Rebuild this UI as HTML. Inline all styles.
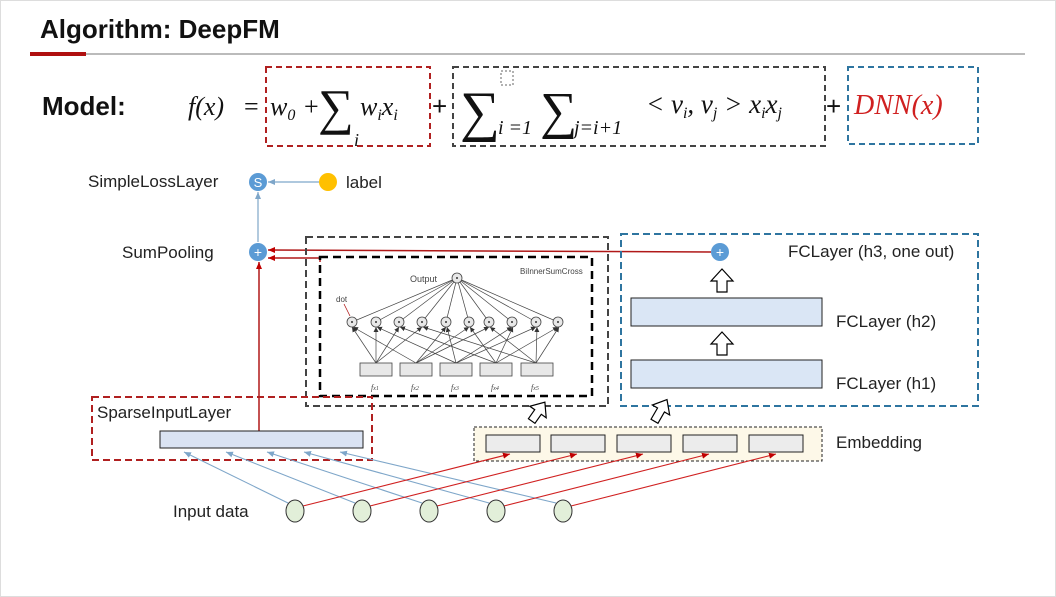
<!DOCTYPE html>
<html><head><meta charset="utf-8"><style>
html,body{margin:0;padding:0;background:#fff;}
svg{display:block;font-family:"Liberation Sans",sans-serif;}
.t{font-family:"Liberation Sans",sans-serif;}
.m{font-family:"Liberation Serif",serif;font-style:italic;}
</style></head><body>
<svg width="1056" height="597" viewBox="0 0 1056 597" xmlns="http://www.w3.org/2000/svg">
<defs>
<marker id="ab" markerWidth="8" markerHeight="8" refX="7" refY="4" orient="auto" markerUnits="userSpaceOnUse"><path d="M0,1 L7,4 L0,7 z" fill="#7ea6c9"/></marker>
<marker id="ar" markerWidth="8" markerHeight="8" refX="7" refY="4" orient="auto" markerUnits="userSpaceOnUse"><path d="M0,1 L7,4 L0,7 z" fill="#c00000"/></marker>
<marker id="ak" markerWidth="6" markerHeight="6" refX="5" refY="3" orient="auto" markerUnits="userSpaceOnUse"><path d="M0,0.5 L5,3 L0,5.5 z" fill="#333"/></marker>
</defs>
<rect x="0.5" y="0.5" width="1055" height="596" fill="#fff" stroke="#ddd"/>
<text x="40" y="38" font-size="26" font-weight="bold" fill="#111" class="t">Algorithm: DeepFM</text>
<line x1="30" y1="54" x2="1025" y2="54" stroke="#bbb" stroke-width="2"/>
<line x1="30" y1="54" x2="86" y2="54" stroke="#b01010" stroke-width="4"/>
<text x="42" y="115" font-size="26" font-weight="bold" fill="#111">Model:</text>
<rect x="266" y="67" width="164" height="79" fill="none" stroke="#b02020" stroke-width="2" stroke-dasharray="6,4"/>
<rect x="453" y="67" width="372" height="79" fill="none" stroke="#444" stroke-width="2" stroke-dasharray="6,4"/>
<rect x="848" y="67" width="130" height="77" fill="none" stroke="#2e75a0" stroke-width="2" stroke-dasharray="6,4"/>
<text class="m" font-size="26" x="188" y="115" fill="#111">f(x)</text>
<text font-size="26" x="244" y="115" fill="#111" font-family="Liberation Serif">=</text>
<text class="m" font-size="26" x="270" y="115" fill="#111">w<tspan font-size="16" dy="5">0</tspan></text>
<text font-size="26" x="304" y="115" fill="#111" font-family="Liberation Serif">+</text>
<text font-size="50" x="318" y="124" fill="#111" font-family="Liberation Serif">∑</text>
<text class="m" font-size="18" x="354" y="146" fill="#111">i</text>
<text class="m" font-size="26" x="360" y="115" fill="#111">w<tspan font-size="16" dy="5">i</tspan><tspan dy="-5">x</tspan><tspan font-size="16" dy="5">i</tspan></text>
<text font-size="26" x="432" y="115" fill="#111">+</text>
<text font-size="56" x="460" y="130" fill="#111" font-family="Liberation Serif">∑</text>
<rect x="501" y="71" width="12" height="14" fill="none" stroke="#666" stroke-dasharray="2,2"/>
<text class="m" font-size="20" x="498" y="134" fill="#111">i =1</text>
<text font-size="52" x="540" y="128" fill="#111" font-family="Liberation Serif">∑</text>
<text class="m" font-size="20" x="574" y="134" fill="#111">j=i+1</text>
<text class="m" font-size="27" x="646" y="113" fill="#111">&lt; v<tspan font-size="16" dy="5">i</tspan><tspan dy="-5">, v</tspan><tspan font-size="16" dy="5">j</tspan><tspan dy="-5"> &gt; x</tspan><tspan font-size="16" dy="5">i</tspan><tspan dy="-5">x</tspan><tspan font-size="16" dy="5">j</tspan></text>
<text font-size="26" x="826" y="115" fill="#111">+</text>
<text class="m" font-size="28" x="854" y="114" fill="#d02020">DNN(x)</text>

<!-- top nodes -->
<text x="88" y="187" font-size="17" fill="#222">SimpleLossLayer</text>
<line x1="319" y1="182" x2="268" y2="182" stroke="#7ea6c9" stroke-width="1.2" marker-end="url(#ab)"/>
<line x1="258" y1="242" x2="258" y2="192" stroke="#7ea6c9" stroke-width="1.2" marker-end="url(#ab)"/>
<circle cx="258" cy="182" r="9" fill="#5b9bd5"/>
<text x="258" y="187" font-size="13" fill="#fff" text-anchor="middle">S</text>
<circle cx="328" cy="182" r="9" fill="#ffc000"/>
<text x="346" y="188" font-size="17" fill="#222">label</text>
<text x="122" y="258" font-size="17" fill="#222">SumPooling</text>
<line x1="711" y1="252" x2="268" y2="250" stroke="#b01818" stroke-width="1.5" marker-end="url(#ar)"/>
<line x1="320" y1="258" x2="268" y2="258" stroke="#b01818" stroke-width="1.5" marker-end="url(#ar)"/>
<line x1="320" y1="258" x2="320" y2="262" stroke="#b01818" stroke-width="1.5"/>
<line x1="259" y1="431" x2="259" y2="262" stroke="#b01818" stroke-width="1.5" marker-end="url(#ar)"/>
<circle cx="258" cy="252" r="9" fill="#5b9bd5"/>
<text x="258" y="257" font-size="14" fill="#fff" text-anchor="middle">+</text>

<!-- FM boxes -->
<rect x="306" y="237" width="302" height="169" fill="none" stroke="#444" stroke-width="2" stroke-dasharray="7,4"/>
<rect x="320" y="257" width="272" height="139" fill="none" stroke="#000" stroke-width="2.5" stroke-dasharray="8,5"/>
<g stroke="#444" stroke-width="0.7">
<line x1="457" y1="278" x2="352" y2="322"/><line x1="457" y1="278" x2="376" y2="322"/><line x1="457" y1="278" x2="399" y2="322"/><line x1="457" y1="278" x2="422" y2="322"/><line x1="457" y1="278" x2="446" y2="322"/><line x1="457" y1="278" x2="469" y2="322"/><line x1="457" y1="278" x2="489" y2="322"/><line x1="457" y1="278" x2="512" y2="322"/><line x1="457" y1="278" x2="536" y2="322"/><line x1="457" y1="278" x2="558" y2="322"/>
</g>
<g stroke="#444" stroke-width="0.7" marker-end="url(#ak)">
<line x1="376" y1="363" x2="352" y2="327"/><line x1="416" y1="363" x2="353" y2="327"/>
<line x1="376" y1="363" x2="376" y2="327"/><line x1="456" y1="363" x2="377" y2="327"/>
<line x1="376" y1="363" x2="399" y2="327"/><line x1="496" y1="363" x2="400" y2="327"/>
<line x1="376" y1="363" x2="422" y2="327"/><line x1="536" y1="363" x2="423" y2="327"/>
<line x1="416" y1="363" x2="446" y2="327"/><line x1="456" y1="363" x2="447" y2="327"/>
<line x1="416" y1="363" x2="469" y2="327"/><line x1="496" y1="363" x2="470" y2="327"/>
<line x1="416" y1="363" x2="489" y2="327"/><line x1="536" y1="363" x2="490" y2="327"/>
<line x1="456" y1="363" x2="512" y2="327"/><line x1="496" y1="363" x2="513" y2="327"/>
<line x1="456" y1="363" x2="536" y2="327"/><line x1="536" y1="363" x2="537" y2="327"/>
<line x1="496" y1="363" x2="558" y2="327"/><line x1="536" y1="363" x2="559" y2="327"/>
</g>
<g fill="#e8e8e8" stroke="#444" stroke-width="0.8">
<circle cx="457" cy="278" r="5"/>
<circle cx="352" cy="322" r="5"/><circle cx="376" cy="322" r="5"/><circle cx="399" cy="322" r="5"/><circle cx="422" cy="322" r="5"/><circle cx="446" cy="322" r="5"/><circle cx="469" cy="322" r="5"/><circle cx="489" cy="322" r="5"/><circle cx="512" cy="322" r="5"/><circle cx="536" cy="322" r="5"/><circle cx="558" cy="322" r="5"/>
<rect x="360" y="363" width="32" height="13"/><rect x="400" y="363" width="32" height="13"/><rect x="440" y="363" width="32" height="13"/><rect x="480" y="363" width="32" height="13"/><rect x="521" y="363" width="32" height="13"/>
</g>
<g fill="#333"><circle cx="457" cy="278" r="1"/><circle cx="352" cy="322" r="1"/><circle cx="376" cy="322" r="1"/><circle cx="399" cy="322" r="1"/><circle cx="422" cy="322" r="1"/><circle cx="446" cy="322" r="1"/><circle cx="469" cy="322" r="1"/><circle cx="489" cy="322" r="1"/><circle cx="512" cy="322" r="1"/><circle cx="536" cy="322" r="1"/><circle cx="558" cy="322" r="1"/></g>
<line x1="344" y1="304" x2="350" y2="316" stroke="#b01818" stroke-width="0.8"/>
<text x="336" y="302" font-size="8" fill="#444">dot</text>
<text x="410" y="282" font-size="9" fill="#444">Output</text>
<text x="520" y="274" font-size="8" fill="#444">BiInnerSumCross</text>
<g font-size="8" fill="#444" class="m"><text x="371" y="390">f<tspan font-size="6">x1</tspan></text><text x="411" y="390">f<tspan font-size="6">x2</tspan></text><text x="451" y="390">f<tspan font-size="6">x3</tspan></text><text x="491" y="390">f<tspan font-size="6">x4</tspan></text><text x="531" y="390">f<tspan font-size="6">x5</tspan></text></g>

<!-- DNN -->
<rect x="621" y="234" width="357" height="172" fill="none" stroke="#2e75a0" stroke-width="2" stroke-dasharray="7,4"/>
<circle cx="720" cy="252" r="9" fill="#5b9bd5"/>
<text x="720" y="257" font-size="14" fill="#fff" text-anchor="middle">+</text>
<text x="788" y="257" font-size="17" fill="#222">FCLayer (h3, one out)</text>
<path d="M722,269 L733,281 L727,281 L727,292 L717,292 L717,281 L711,281 Z" fill="#fff" stroke="#000" stroke-width="1.2"/>
<path d="M722,332 L733,344 L727,344 L727,355 L717,355 L717,344 L711,344 Z" fill="#fff" stroke="#000" stroke-width="1.2"/>
<rect x="631" y="298" width="191" height="28" fill="#dae6f5" stroke="#222" stroke-width="1"/>
<rect x="631" y="360" width="191" height="28" fill="#dae6f5" stroke="#222" stroke-width="1"/>
<text x="836" y="327" font-size="17" fill="#222">FCLayer (h2)</text>
<text x="836" y="389" font-size="17" fill="#222">FCLayer (h1)</text>
<path d="M0,-12 L10,0 L4,0 L4,11 L-4,11 L-4,0 L-10,0 Z" transform="translate(538,412) rotate(35)" fill="#fff" stroke="#000" stroke-width="1.2"/>
<path d="M0,-12 L10,0 L4,0 L4,13 L-4,13 L-4,0 L-10,0 Z" transform="translate(661,410) rotate(30)" fill="#fff" stroke="#000" stroke-width="1.2"/>

<!-- sparse -->
<rect x="92" y="397" width="280" height="63" fill="none" stroke="#b02020" stroke-width="2" stroke-dasharray="7,4"/>
<text x="97" y="418" font-size="17" fill="#222">SparseInputLayer</text>
<rect x="160" y="431" width="203" height="17" fill="#dae3f3" stroke="#222" stroke-width="1"/>

<!-- embedding -->
<rect x="474" y="427" width="348" height="34" fill="#fdf8e8" stroke="#222" stroke-width="1" stroke-dasharray="3,2"/>
<g fill="#ececec" stroke="#222" stroke-width="1">
<rect x="486" y="435" width="54" height="17"/><rect x="551" y="435" width="54" height="17"/><rect x="617" y="435" width="54" height="17"/><rect x="683" y="435" width="54" height="17"/><rect x="749" y="435" width="54" height="17"/>
</g>
<text x="836" y="448" font-size="17" fill="#222">Embedding</text>

<!-- inputs -->
<g stroke="#7ea6c9" stroke-width="1.1" marker-end="url(#ab)">
<line x1="288" y1="503" x2="184" y2="452"/><line x1="355" y1="503" x2="226" y2="452"/><line x1="422" y1="503" x2="267" y2="452"/><line x1="489" y1="503" x2="304" y2="452"/><line x1="556" y1="503" x2="340" y2="452"/>
</g>
<g stroke="#d02020" stroke-width="1.1" marker-end="url(#ar)">
<line x1="303" y1="506" x2="510" y2="454"/><line x1="370" y1="506" x2="577" y2="454"/><line x1="437" y1="506" x2="643" y2="454"/><line x1="504" y1="506" x2="709" y2="454"/><line x1="571" y1="506" x2="776" y2="454"/>
</g>
<g fill="#e2efd9" stroke="#333" stroke-width="1">
<ellipse cx="295" cy="511" rx="9" ry="11"/><ellipse cx="362" cy="511" rx="9" ry="11"/><ellipse cx="429" cy="511" rx="9" ry="11"/><ellipse cx="496" cy="511" rx="9" ry="11"/><ellipse cx="563" cy="511" rx="9" ry="11"/>
</g>
<text x="173" y="517" font-size="17" fill="#222">Input data</text>
</svg>
</body></html>
